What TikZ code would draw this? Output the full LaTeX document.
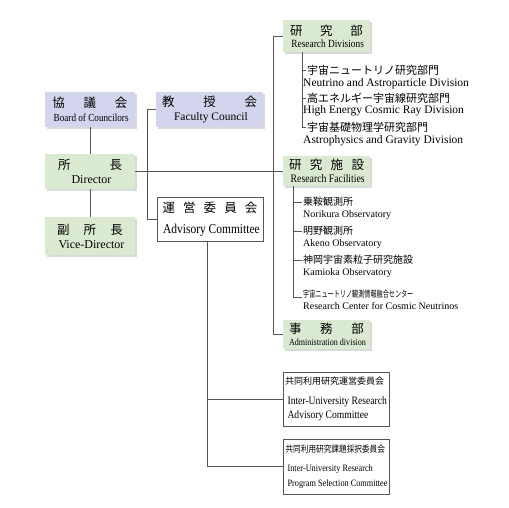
\documentclass[tikz,border=0pt]{standalone}
\usepackage{fontspec}
\setmainfont{Liberation Serif}
\newfontfamily\jpfont{Noto Sans CJK JP}
\newfontfamily\jpnarrow[FakeStretch=0.85]{Noto Sans CJK JP}
\newfontfamily\jpcond[FakeStretch=0.68]{Noto Sans CJK JP}
\newfontfamily\ennarrow[FakeStretch=0.85]{Liberation Serif}
\usepackage{tikz}
\usetikzlibrary{shadows,positioning,calc}

\definecolor{unitgreen}{RGB}{218,234,210}
\definecolor{councilblue}{RGB}{210,213,237}
\definecolor{linegray}{RGB}{90,84,84}

% spread Japanese characters over a fixed width
\newcommand{\spread}[2]{\makebox[#1][s]{#2}}
\newcommand{\jpbox}{\jpfont\fontsize{12.5}{14}\selectfont}
\newcommand{\enbox}[1]{\ennarrow\fontsize{#1}{#1}\selectfont}
\newcommand{\enwide}[1]{\rmfamily\fontsize{#1}{#1}\selectfont}

\begin{document}
\begin{tikzpicture}[x=1pt, y=-1pt,
    unit/.style={rectangle, fill=unitgreen, inner sep=0pt, align=center,
                 drop shadow={shadow xshift=2pt, shadow yshift=-2pt, opacity=0.3}},
    council/.style={unit, fill=councilblue},
    committee/.style={rectangle, draw=linegray, fill=white, inner sep=0pt, align=center},
    jointbox/.style={rectangle, draw=linegray, fill=white, inner sep=0pt,
                     align=left, minimum width=106pt},
    itemjp/.style={anchor=west, inner sep=1pt, font=\jpfont\fontsize{11}{13}\selectfont},
    itemfac/.style={anchor=west, inner sep=1pt, font=\jpfont\fontsize{10}{12}\selectfont},
    itemen/.style={anchor=west, inner sep=0pt, font=\fontsize{10}{12}\selectfont},
    link/.style={draw=linegray, line width=0.8pt}
]
\useasboundingbox (0,0) rectangle (509,507);

% left column
\node[council, minimum width=90pt, minimum height=35pt] (board) at (90,109.5)
  {{\jpbox\spread{75pt}{協\hfill 議\hfill 会}}\\[2pt]{\enbox{10.8} Board of Councilors}};
\node[unit, minimum width=90pt, minimum height=35pt] (director) at (90,171.5)
  {{\jpbox\spread{64pt}{所\hfill 長}}\\[2pt]{\enwide{12} Director}};
\node[unit, minimum width=90pt, minimum height=38pt] (vice) at (90,236)
  {{\jpbox\spread{66pt}{副\hfill 所\hfill 長}}\\[2pt]{\enwide{12} Vice-Director}};

% middle column
\node[council, minimum width=107pt, minimum height=35pt] (faculty) at (209.5,109.5)
  {{\jpbox\spread{95pt}{教\hfill 授\hfill 会}}\\[2pt]{\enwide{11.5} Faculty Council}};
\node[committee, minimum width=106pt, minimum height=44pt] (advisory) at (210,219)
  {{\jpbox\spread{95pt}{運\hfill 営\hfill 委\hfill 員\hfill 会}}\\[9pt]{\enbox{13.5} Advisory Committee}};

% right column
\node[unit, minimum width=87pt, minimum height=32pt] (resdiv) at (326.5,36)
  {{\jpbox\spread{73pt}{研\hfill 究\hfill 部}}\\[0pt]{\enbox{11} Research Divisions}};
\node[unit, minimum width=87pt, minimum height=30pt] (resfac) at (326.5,171)
  {{\jpbox\spread{75pt}{研\hfill 究\hfill 施\hfill 設}}\\[1pt]{\enbox{11.5} Research Facilities}};
\node[unit, minimum width=87pt, minimum height=29pt] (admin) at (326.5,334.5)
  {{\jpbox\spread{75pt}{事\hfill 務\hfill 部}}\\[0pt]{\enbox{9.5} Administration division}};

% divisions
\node[itemjp] (div1) at (306,70) {宇宙ニュートリノ研究部門};
\node[itemen, font=\fontsize{11.5}{13}\selectfont] (div1en) at (303,84) {Neutrino and Astroparticle Division};
\node[itemjp] (div2) at (306,98) {高エネルギー宇宙線研究部門};
\node[itemen, font=\fontsize{11.5}{13}\selectfont] (div2en) at (303,111) {High Energy Cosmic Ray Division};
\node[itemjp] (div3) at (306,127) {宇宙基礎物理学研究部門};
\node[itemen, font=\fontsize{11.5}{13}\selectfont] (div3en) at (303,141) {Astrophysics and Gravity Division};

% facilities
\node[itemfac] (fac1) at (302,202) {乗鞍観測所};
\node[itemen] (fac1en) at (303,215) {Norikura Observatory};
\node[itemfac] (fac2) at (302,231) {明野観測所};
\node[itemen] (fac2en) at (303,244) {Akeno Observatory};
\node[itemfac] (fac3) at (302,260) {神岡宇宙素粒子研究施設};
\node[itemen] (fac3en) at (303,273) {Kamioka Observatory};
\node[itemfac, font=\jpcond\fontsize{9}{10}\selectfont] (fac4) at (302,294) {宇宙ニュートリノ観測情報融合センター};
\node[itemen] (fac4en) at (303,306) {Research Center for Cosmic Neutrinos};

% joint-use committees
\node[jointbox, minimum height=54pt] (iuadv) at (336,399)
  {{\jpfont\fontsize{9}{11}\selectfont 共同利用研究運営委員会}\\[8pt]
   {\enbox{11.3} Inter-University Research}\\[2pt]
   {\enbox{11.3} Advisory Committee}};
\node[jointbox, minimum height=55pt] (iusel) at (336.5,466.5)
  {{\jpnarrow\fontsize{9}{11}\selectfont 共同利用研究課題採択委員会}\\[7pt]
   {\enbox{9.7} Inter-University Research}\\[3pt]
   {\enbox{9.7} Program Selection Committee}};

% bars
\coordinate (trunk) at (273,0);
\coordinate (bracket) at (147,0);
\coordinate (advbar) at (207,0);
\coordinate (divbar) at (302,0);
\coordinate (facbar) at (293,0);

% connectors
\draw[link] (board) -- (director);
\draw[link] (director) -- (vice);
\draw[link] (director.east) -- (director.east -| resfac.west);
\draw[link] (resdiv.west) -- (resdiv.west -| trunk) |- (admin.west);
\draw[link] (faculty.west) -- (faculty.west -| bracket) |- (advisory.west);
\draw[link] (advisory.south -| advbar) |- (iusel.west);
\draw[link] (iuadv.west -| advbar) -- (iuadv.west);
\draw[link] (resdiv.south -| divbar) |- (div3.west);
\draw[link] (div1.west -| divbar) -- (div1.west);
\draw[link] (div2.west -| divbar) -- (div2.west);
\draw[link] (resfac.south -| facbar) |- ($(fac4.west)+(0,3)$);
\draw[link] (fac1.west -| facbar) -- (fac1.west);
\draw[link] (fac2.west -| facbar) -- (fac2.west);
\draw[link] (fac3.west -| facbar) -- (fac3.west);
\end{tikzpicture}
\end{document}
